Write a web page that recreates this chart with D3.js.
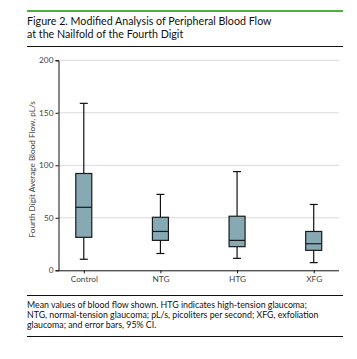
<!DOCTYPE html>
<html><head><meta charset="utf-8">
<script src="https://cdn.jsdelivr.net/npm/d3@7"></script>
<style>body{margin:0;background:#fff}svg{display:block}</style>
</head><body>
<script>
const categories = ["Control", "NTG", "HTG", "XFG"];
const whiskerLow = [10.5, 16, 11.4, 7.3];
const q1 = [31.4, 28.5, 22.5, 19];
const median = [60, 37, 28.5, 25.3];
const q3 = [92.2, 50.5, 51.5, 37];
const whiskerHigh = [159, 72.3, 94, 62.7];
const yTicks = [0, 50, 100, 150, 200];
const titleLines = ["Figure 2. Modified Analysis of Peripheral Blood Flow", "at the Nailfold of the Fourth Digit"];
const yLabel = "Fourth Digit Average Blood Flow, pL/s";
const captionLines = ["Mean values of blood flow shown. HTG indicates high-tension glaucoma;",
  "NTG, normal-tension glaucoma; pL/s, picoliters per second; XFG, exfoliation",
  "glaucoma; and error bars, 95% CI."];

const W = 357, H = 359;
const font = "Lato, 'Open Sans', sans-serif";
const svg = d3.select("body").append("svg").attr("width", W).attr("height", H);

// header rules
svg.append("line").attr("x1", 27).attr("x2", 343).attr("y1", 11).attr("y2", 11).attr("stroke", "#4caf3f").attr("stroke-width", 2);
svg.selectAll("text.title").data(titleLines).enter().append("text")
  .attr("x", 27).attr("y", (d, i) => 24.5 + i * 13.3)
  .attr("font-family", font).attr("font-size", 10.7).attr("fill", "#111")
  .text(d => d);
svg.append("line").attr("x1", 27).attr("x2", 343).attr("y1", 46.5).attr("y2", 46.5).attr("stroke", "#111").attr("stroke-width", 1);

const x0 = 58.5, x1 = 339, yTop = 60.3, yBot = 270.3;
const y = d3.scaleLinear().domain([0, 200]).range([yBot, yTop]);
const x = d3.scalePoint().domain(categories).range([x0, x1]).padding(0.33);

// grid
svg.append("g").selectAll("line").data(yTicks.filter(d => d > 0)).enter().append("line")
  .attr("x1", x0).attr("x2", x1).attr("y1", d => y(d)).attr("y2", d => y(d))
  .attr("stroke", "#d9d9d9").attr("stroke-width", 1);

// axes
const yAxis = svg.append("g").attr("transform", `translate(${x0},0)`)
  .call(d3.axisLeft(y).tickValues(yTicks).tickSize(3).tickPadding(2));
yAxis.select(".domain").attr("stroke", "#111");
yAxis.selectAll(".tick line").attr("stroke", "#111");
yAxis.selectAll("text").attr("font-family", font).attr("font-size", 8.3).attr("fill", "#444");

const xAxis = svg.append("g").attr("transform", `translate(0,${yBot})`)
  .call(d3.axisBottom(x).tickSize(3).tickSizeOuter(0).tickPadding(3));
xAxis.select(".domain").attr("stroke", "#111").attr("d", `M${x0},0.5H${x1}`);
xAxis.selectAll(".tick line").attr("stroke", "#111");
xAxis.selectAll("text").attr("font-family", font).attr("font-size", 8.3).attr("fill", "#444");

svg.append("text").attr("transform", `translate(34.5,${(yTop + yBot) / 2 + 4}) rotate(-90)`)
  .attr("text-anchor", "middle").attr("font-family", font).attr("font-size", 8.2).attr("fill", "#444")
  .text(yLabel);

// boxes
const bw = 16;
const g = svg.append("g").selectAll("g").data(categories).enter().append("g");
g.append("line").attr("x1", d => x(d)).attr("x2", d => x(d))
  .attr("y1", (d, i) => y(whiskerLow[i])).attr("y2", (d, i) => y(whiskerHigh[i]))
  .attr("stroke", "#111").attr("stroke-width", 1.2);
g.append("line").attr("x1", d => x(d) - 4).attr("x2", d => x(d) + 4)
  .attr("y1", (d, i) => y(whiskerLow[i])).attr("y2", (d, i) => y(whiskerLow[i]))
  .attr("stroke", "#111").attr("stroke-width", 1.2);
g.append("line").attr("x1", d => x(d) - 4).attr("x2", d => x(d) + 4)
  .attr("y1", (d, i) => y(whiskerHigh[i])).attr("y2", (d, i) => y(whiskerHigh[i]))
  .attr("stroke", "#111").attr("stroke-width", 1.2);
g.append("rect").attr("x", d => x(d) - bw / 2).attr("width", bw)
  .attr("y", (d, i) => y(q3[i])).attr("height", (d, i) => y(q1[i]) - y(q3[i]))
  .attr("fill", "#87a9b4").attr("stroke", "#1a1a1a").attr("stroke-width", 1.2);
g.append("line").attr("x1", d => x(d) - bw / 2).attr("x2", d => x(d) + bw / 2)
  .attr("y1", (d, i) => y(median[i])).attr("y2", (d, i) => y(median[i]))
  .attr("stroke", "#1a1a1a").attr("stroke-width", 1.2);

// caption
svg.append("line").attr("x1", 27).attr("x2", 343).attr("y1", 295.5).attr("y2", 295.5).attr("stroke", "#111").attr("stroke-width", 1);
svg.selectAll("text.cap").data(captionLines).enter().append("text")
  .attr("x", 27).attr("y", (d, i) => 308 + i * 10.2)
  .attr("font-family", font).attr("font-size", 8.8).attr("fill", "#111")
  .text(d => d);
svg.append("line").attr("x1", 27).attr("x2", 343).attr("y1", 336.5).attr("y2", 336.5).attr("stroke", "#111").attr("stroke-width", 1);
</script>
</body></html>
